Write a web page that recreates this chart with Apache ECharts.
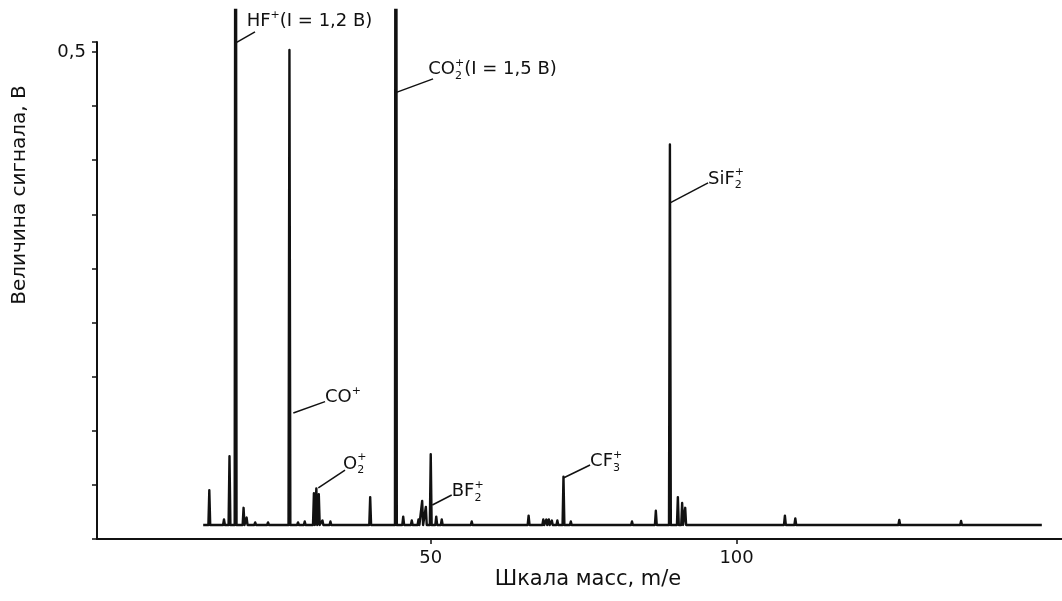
<!DOCTYPE html>
<html><head><meta charset="utf-8">
<script src="https://cdn.jsdelivr.net/npm/echarts@6/dist/echarts.min.js"></script>
<style>html,body{margin:0;padding:0;background:#fff}#c{width:1062px;height:601px}</style>
</head><body><div id="c"></div>
<script>
// ---- data ----
const peakMass = [13.8, 16.2, 17.1, 18.1, 19.4, 19.9, 21.3, 23.4, 26.9, 28.3, 29.4, 30.9, 31.3, 31.7, 32.3, 33.6, 40.1, 44.3, 45.5, 46.9, 48.0, 48.6, 49.2, 50.0, 50.9, 51.8, 56.7, 66.0, 68.4, 68.9, 69.3, 69.8, 70.7, 71.7, 72.9, 82.9, 86.8, 89.1, 90.4, 91.1, 91.6, 107.9, 109.6, 126.6, 136.7];
const peakSignal = [0.050, 0.020, 0.085, 1.2, 0.032, 0.022, 0.017, 0.017, 0.502, 0.017, 0.018, 0.047, 0.052, 0.046, 0.019, 0.018, 0.043, 1.5, 0.023, 0.019, 0.020, 0.039, 0.033, 0.087, 0.023, 0.020, 0.018, 0.024, 0.020, 0.020, 0.020, 0.019, 0.019, 0.064, 0.018, 0.018, 0.029, 0.405, 0.043, 0.037, 0.032, 0.024, 0.021, 0.0195, 0.0185];
const baselineSignal = 0.0144;
const massRange = [12.8, 149.9];
const xTickValues = [50, 100];
const yTickLabel = '0,5';
const xTitle = 'Шкала масс, m/e';
const yTitle = 'Величина сигнала, В';
const labelTexts = [
  '{b|HF}{sup|+}{b|(I = 1,2 В)}',
  '{b|CO}{subz|2}{sup|+}{b|(I = 1,5 В)}',
  '{b|CO}{sup|+}',
  '{b|O}{subz|2}{sup|+}',
  '{b|BF}{subz|2}{sup|+}',
  '{b|CF}{subz|3}{sup|+}',
  '{b|SiF}{subz|2}{sup|+}'
];
// annotation anchors (data space)
const labelAnchors = [[19.91,0.5313],[49.6,0.482],[32.72,0.1453],[35.66,0.077],[53.43,0.0488],[76.05,0.0796],[95.34,0.3696]];
const leaderFrom = [[18.12,0.5092],[44.16,0.4579],[27.53,0.1294],[31.62,0.0524],[50.26,0.0349],[71.68,0.0626],[89.13,0.345]];
const leaderTo = [[21.27,0.5205],[50.38,0.4723],[32.72,0.141],[35.99,0.0708],[53.43,0.0452],[76.05,0.076],[95.34,0.3655]];

// ---- build spectrum trace ----
const hw = 0.15;
const trace = [[massRange[0], baselineSignal]];
peakMass.forEach((m, i) => {
  trace.push([m - hw, baselineSignal], [m, peakSignal[i]], [m + hw, baselineSignal]);
});
trace.push([massRange[1], baselineSignal]);

const ink = '#111111';
const font = 'DejaVu Sans';
const rich = {
  b: {fontSize: 18, fontFamily: font, color: ink, lineHeight: 24, verticalAlign: 'middle'},
  sup: {fontSize: 11, fontFamily: font, color: ink, lineHeight: 24, verticalAlign: 'top'},
  sub: {fontSize: 11, fontFamily: font, color: ink, lineHeight: 24, verticalAlign: 'bottom'},
  subz: {fontSize: 11, fontFamily: font, color: ink, lineHeight: 24, verticalAlign: 'bottom', width: 0}
};

const chart = echarts.init(document.getElementById('c'), null, {renderer: 'canvas'});
chart.setOption({
  backgroundColor: '#fff',
  animation: false,
  grid: [
    {left: 97, right: 0, top: 10, bottom: 62},
    {left: 97, right: 0, top: 42, bottom: 62}
  ],
  xAxis: [
    {gridIndex: 0, type: 'value', min: -4.56, max: 153.2,
     axisLine: {onZero: false, lineStyle: {color: ink, width: 2}},
     axisTick: {customValues: xTickValues, length: 5, lineStyle: {color: ink, width: 1.5}},
     axisLabel: {customValues: xTickValues, fontSize: 18, fontFamily: font, color: ink, margin: 10},
     splitLine: {show: false}},
    {gridIndex: 1, type: 'value', min: -4.56, max: 153.2, show: false}
  ],
  yAxis: [
    {gridIndex: 0, type: 'value', min: 0, max: 0.543, show: false},
    {gridIndex: 1, type: 'value', min: 0, max: 0.5103, interval: 0.5 / 9,
     axisLine: {show: true, onZero: false, lineStyle: {color: ink, width: 2}},
     axisTick: {show: true, length: 5, lineStyle: {color: ink, width: 1.5}},
     axisLabel: {fontSize: 18, fontFamily: font, color: ink, margin: 11,
       formatter: v => Math.abs(v - 0.5) < 1e-6 ? yTickLabel : ''},
     splitLine: {show: false}}
  ],
  graphic: [
    {type: 'text', x: 588, y: 580,
     style: {text: xTitle, fontSize: 21, fontFamily: font, fill: ink, align: 'center', verticalAlign: 'middle'}},
    {type: 'text', x: 20, y: 195, rotation: Math.PI / 2,
     style: {text: yTitle, fontSize: 20, fontFamily: font, fill: ink, align: 'center', verticalAlign: 'middle'}}
  ],
  series: [
    {type: 'line', xAxisIndex: 0, yAxisIndex: 0, data: trace, symbol: 'none', clip: true,
     lineStyle: {color: ink, width: 2.4, join: 'round'}},
    {type: 'lines', coordinateSystem: 'cartesian2d', xAxisIndex: 0, yAxisIndex: 0,
     data: leaderFrom.map((p, i) => ({coords: [p, leaderTo[i]]})),
     lineStyle: {color: ink, width: 1.5, opacity: 1}},
    {type: 'scatter', xAxisIndex: 0, yAxisIndex: 0, symbolSize: 0, clip: false,
     data: labelAnchors.map((p, i) => ({value: p, name: labelTexts[i]})),
     label: {show: true, position: 'right', distance: 0, color: ink, opacity: 1,
       formatter: p => p.name, rich: rich}}
  ]
});
</script></body></html>
